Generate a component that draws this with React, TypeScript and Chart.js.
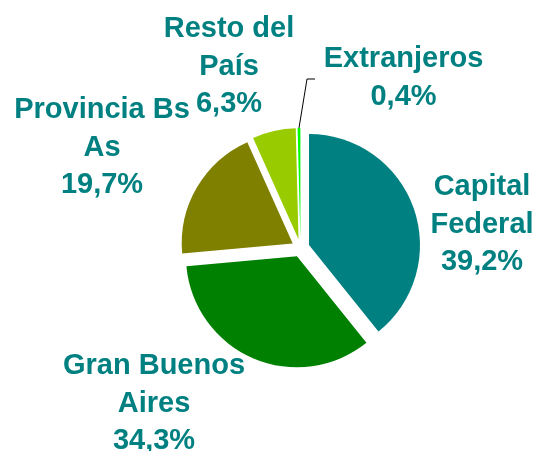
import React, { useEffect, useRef } from "react";
import { Chart, registerables } from "chart.js";

Chart.register(...registerables);

// ---- data ----
const categories = ["Capital Federal", "Gran Buenos Aires", "Provincia Bs As", "Resto del País", "Extranjeros"];
const labelLines = [["Capital", "Federal"], ["Gran Buenos", "Aires"], ["Provincia Bs", "As"], ["Resto del", "País"], ["Extranjeros"]];
const shares = [39.2, 34.3, 19.7, 6.3, 0.4];
const sliceColors = ["#008080", "#008000", "#808000", "#99CC00", "#00FF00"];

// ---- layout / style ----
const TEXT_COLOR = "#008080";
const FONT = "bold 29px 'Liberation Sans', Arial, sans-serif";
const LINE_H = 37.7;
const EXPLODE = 9;
const PIE_RADIUS = 111;
// label anchor (centre x, first baseline y) relative to pie centre
const labelOffsets = [
  [181.5, -53],
  [-146.5, 126],
  [-198.5, -130],
  [-71.5, -211],
  [103, -181],
];
// leader line for the last slice (relative to pie centre)
const leaderBend = [6.5, -169];
const leaderEnd = [14.5, -169];

const fmt = (v: number) => v.toFixed(1).replace(".", ",") + "%";

const explodePlugin = {
  id: "explodeSlices",
  beforeDatasetDraw(chart: any, args: any) {
    const meta = chart.getDatasetMeta(args.index);
    const ctx = chart.ctx;
    meta.data.forEach((arc: any) => {
      const mid = (arc.startAngle + arc.endAngle) / 2;
      ctx.save();
      ctx.translate(Math.cos(mid) * EXPLODE, Math.sin(mid) * EXPLODE);
      arc.draw(ctx);
      ctx.restore();
    });
    return false;
  },
};

const labelPlugin = {
  id: "sliceLabels",
  afterDatasetsDraw(chart: any) {
    const meta = chart.getDatasetMeta(0);
    const ctx = chart.ctx;
    const first = meta.data[0];
    const cx = first.x;
    const cy = first.y;
    ctx.save();
    // leader line for the smallest slice
    const last = meta.data[meta.data.length - 1];
    const mid = (last.startAngle + last.endAngle) / 2;
    const r = last.outerRadius + EXPLODE;
    ctx.strokeStyle = "#000000";
    ctx.lineWidth = 1;
    ctx.beginPath();
    ctx.moveTo(cx + Math.cos(mid) * r, cy + Math.sin(mid) * r);
    ctx.lineTo(cx + leaderBend[0], cy + leaderBend[1]);
    ctx.lineTo(cx + leaderEnd[0], cy + leaderEnd[1]);
    ctx.stroke();

    ctx.font = FONT;
    ctx.fillStyle = TEXT_COLOR;
    ctx.textAlign = "center";
    ctx.textBaseline = "alphabetic";
    labelLines.forEach((lines, i) => {
      const all = [...lines, fmt(shares[i])];
      const [dx, dy] = labelOffsets[i];
      all.forEach((t, k) => {
        ctx.fillText(t, cx + dx, cy + dy + k * LINE_H);
      });
    });
    ctx.restore();
  },
};

export default function App() {
  const ref = useRef<HTMLCanvasElement | null>(null);
  useEffect(() => {
    if (!ref.current) return;
    const chart = new Chart(ref.current, {
      type: "pie",
      data: {
        labels: categories,
        datasets: [
          {
            data: shares,
            backgroundColor: sliceColors,
            borderWidth: 0,
            radius: PIE_RADIUS,
          } as any,
        ],
      },
      options: {
        animation: false,
        responsive: false,
        devicePixelRatio: 1,
        layout: { padding: { left: 63, right: 0, top: 45, bottom: 0 } },
        plugins: {
          legend: { display: false },
          tooltip: { enabled: false },
        },
      },
      plugins: [explodePlugin, labelPlugin],
    });
    return () => chart.destroy();
  }, []);
  return (
    <div style={{ position: "fixed", left: 0, top: 0, width: 538, height: 451, background: "#ffffff" }}>
      <canvas ref={ref} width={538} height={451} style={{ display: "block" }} />
    </div>
  );
}
